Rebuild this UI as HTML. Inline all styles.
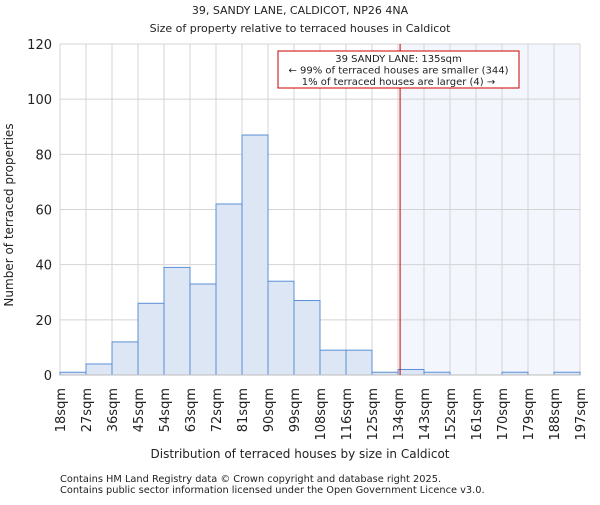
<!DOCTYPE html>
<html><head><meta charset="utf-8"><style>
body{margin:0;background:#fff}
svg text{font-family:"DejaVu Sans","Liberation Sans",sans-serif;fill:#222}
</style></head><body>
<svg id="c" width="600" height="500" xmlns="http://www.w3.org/2000/svg">
<text x="300" y="14" text-anchor="middle" font-size="11">39, SANDY LANE, CALDICOT, NP26 4NA</text>
<text x="300" y="32" text-anchor="middle" font-size="11">Size of property relative to terraced houses in Caldicot</text>
<g id="plot"></g>
<text x="300" y="458" text-anchor="middle" font-size="12">Distribution of terraced houses by size in Caldicot</text>
<text transform="translate(13,215) rotate(-90)" text-anchor="middle" font-size="12">Number of terraced properties</text>
<text x="60" y="482" font-size="9.8" fill="#555">Contains HM Land Registry data © Crown copyright and database right 2025.</text>
<text x="60" y="493" font-size="9.8" fill="#555">Contains public sector information licensed under the Open Government Licence v3.0.</text>
</svg>
<script>
const edges=["18sqm","27sqm","36sqm","45sqm","54sqm","63sqm","72sqm","81sqm","90sqm","99sqm","108sqm","116sqm","125sqm","134sqm","143sqm","152sqm","161sqm","170sqm","179sqm","188sqm","197sqm"];
const counts=[1,4,12,26,39,33,62,87,34,27,9,9,1,2,1,0,0,1,0,1];
const yTicks=[0,20,40,60,80,100,120];
const markerBin=13.08;
const L=60,R=580,T=44,B=375,ymax=120;
const ns="http://www.w3.org/2000/svg";
const g=document.getElementById('plot');
const n=counts.length,bw=(R-L)/n;
const X=i=>L+i*bw, Y=v=>B-(v/ymax)*(B-T);
function mk(t,a,p){const e=document.createElementNS(ns,t);for(const k in a)e.setAttribute(k,a[k]);(p||g).appendChild(e);return e;}
const mx=X(markerBin);
const sh=mk('rect',{x:mx,y:T,width:R-mx,height:B-T,fill:'#f3f6fd'});


yTicks.forEach(v=>{const l=mk('line',{x1:L,x2:R,y1:Y(v),y2:Y(v),stroke:'#d4d4d4'});


const t=mk('text',{x:L-8,y:Y(v)+5,'text-anchor':'end','font-size':13});t.textContent=v;

});
edges.forEach((s,i)=>{const l=mk('line',{x1:X(i),x2:X(i),y1:T,y2:B,stroke:'#d4d4d4'});


const t=mk('text',{transform:`translate(${X(i)+5},388) rotate(-90)`,'text-anchor':'end','font-size':13});t.textContent=s;

});
counts.forEach((v,i)=>{const r=mk('rect',{x:X(i),y:Y(v),width:bw,height:B-Y(v),fill:'#dce6f4',stroke:'#5b8fd6','stroke-width':1});

});
const ax=mk('line',{x1:L,x2:R,y1:B,y2:B,stroke:'#bbb'});


const ml=mk('line',{x1:mx,x2:mx,y1:T,y2:B,stroke:'#cc0000','stroke-width':1});


const bx=mk('rect',{x:278,y:51,width:241,height:37,fill:'#fff',stroke:'#cc0000'});


["39 SANDY LANE: 135sqm","← 99% of terraced houses are smaller (344)","1% of terraced houses are larger (4) →"].forEach((s,i)=>{
const t=mk('text',{x:398.5,y:62+i*11.5,'text-anchor':'middle','font-size':10});t.textContent=s;

});
</script>
</body></html>
